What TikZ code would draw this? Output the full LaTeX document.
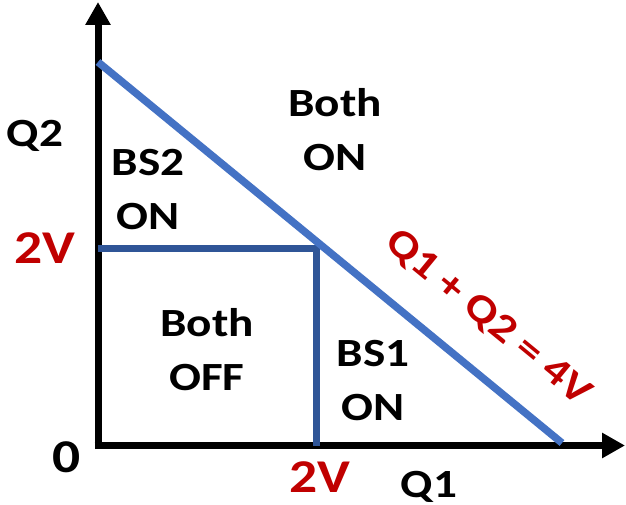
\documentclass[tikz,border=0pt]{standalone}
\usepackage{fontspec}
\setmainfont{Carlito}[FakeStretch=1.18]
\usetikzlibrary{arrows.meta}
\definecolor{lineblue}{HTML}{4472C4}
\definecolor{darkblue}{HTML}{2F5597}
\definecolor{darkred}{HTML}{C00000}
\begin{document}
\begin{tikzpicture}[x=1pt,y=-1pt,
  axis/.style={line width=7pt, -{Triangle[length=23pt,width=24pt]}},
  sq/.style={draw=darkblue, line width=7pt},
  diag/.style={draw=lineblue, line width=7.5pt},
  lbl/.style={font=\fontsize{40}{54}\selectfont\bfseries, align=center, inner sep=0pt, anchor=base},
  val/.style={font=\fontsize{47}{56}\selectfont\bfseries, inner sep=0pt, anchor=base},
  redval/.style={val, text=darkred},
  eqlbl/.style={font=\fontsize{40}{54}\selectfont\bfseries, text=darkred, inner sep=0pt}]
\useasboundingbox (0,0) rectangle (626,505);
% axes
\coordinate (ystart) at (98,449);
\coordinate (ytip) at (98,2);
\coordinate (xstart) at (94.5,445.5);
\coordinate (xtip) at (625,445.5);
\draw[axis] (ystart) -- (ytip);
\draw[axis] (xstart) -- (xtip);
% region boundaries
\coordinate (q2m) at (98,248);
\coordinate (m) at (316,248);
\coordinate (q1m) at (316,445.5);
\draw[sq] (q2m) -- (m) -- (q1m);
% diagonal
\coordinate (a) at (98,62);
\coordinate (b) at (562,443);
\draw[diag] (a) -- (b);
% labels
\node[lbl] (q2) at (35,147) {Q2};
\node[lbl] (q1) at (429,497) {Q1};
\node[lbl] (bs2) at (148,229) {BS2\\ON};
\node[lbl] (bothon) at (335,171) {Both\\ON};
\node[lbl] (bothoff) at (207,390) {Both\\OFF};
\node[lbl] (bs1) at (373,420) {BS1\\ON};
\node[val] (zero) at (67,472) {0};
\node[redval] (v2y) at (45,263) {2V};
\node[redval] (v2x) at (320,492) {2V};
\node[eqlbl, rotate=-39.4] (eq) at (488,318) {Q1 + Q2 = 4V};
\end{tikzpicture}
\end{document}
